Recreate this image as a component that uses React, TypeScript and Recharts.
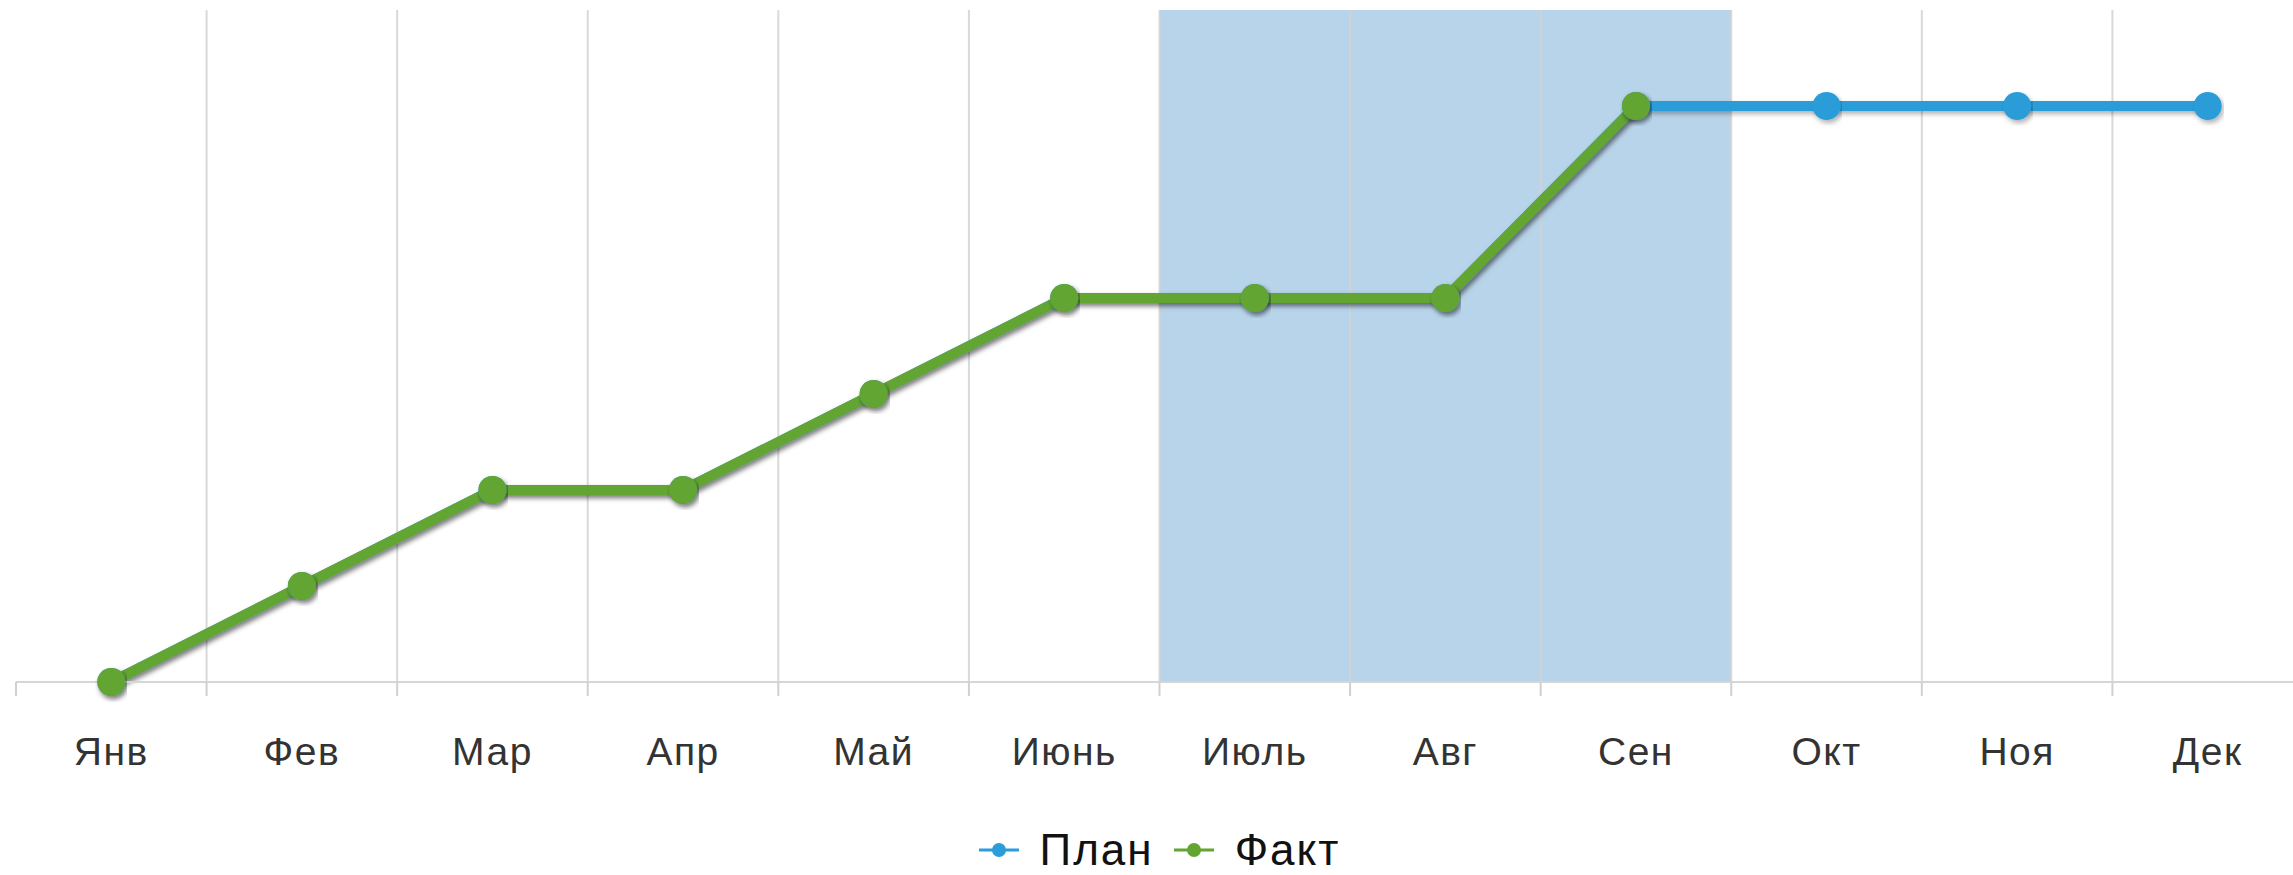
import {
  LineChart,
  Line,
  XAxis,
  YAxis,
  ReferenceArea,
  ReferenceLine,
  Legend,
} from "recharts";

const months = ["Янв", "Фев", "Мар", "Апр", "Май", "Июнь", "Июль", "Авг", "Сен", "Окт", "Ноя", "Дек"];
const planValues = [0, 1, 2, 2, 3, 4, 4, 4, 6, 6, 6, 6];
const factValues: (number | null)[] = [0, 1, 2, 2, 3, 4, 4, 4, 6, null, null, null];
const highlightFrom = "Июль";
const highlightTo = "Сен";
const yMax = 7;

const BLUE = "#2b9dd9";
const GREEN = "#64a531";

// points sit in the middle of each month band
const data = months.map((m, i) => ({
  x: i + 0.5,
  month: m,
  plan: planValues[i],
  fact: factValues[i],
}));

const edgeTicks = months.map((_, i) => i).concat(months.length);
const innerTicks = edgeTicks.slice(1, -1);
const centerTicks = data.map((d) => d.x);

const FONT = "'Liberation Sans', Arial, sans-serif";

const renderLegend = (props: any) => {
  const { payload } = props;
  return (
    <div
      style={{
        display: "flex",
        justifyContent: "center",
        alignItems: "center",
        height: 50,
        fontFamily: FONT,
        fontSize: 44,
        letterSpacing: 2,
        color: "#111",
      }}
    >
      {(payload || []).map((entry: any, i: number) => (
        <span key={i} style={{ display: "flex", alignItems: "center", marginRight: i === 0 ? 20 : 0 }}>
          <svg width={40} height={20}>
            <line x1={0} y1={10} x2={40} y2={10} stroke={entry.color} strokeWidth={3} />
            <circle cx={20} cy={10} r={7} fill={entry.color} />
          </svg>
          <span style={{ marginLeft: 21 }}>{entry.value}</span>
        </span>
      ))}
    </div>
  );
};

export default function App() {
  return (
    <div
      style={{
        position: "fixed",
        left: 0,
        top: 0,
        width: 2293,
        height: 875,
        overflow: "hidden",
        background: "#fff",
      }}
    >
      <LineChart
        width={2310}
        height={875}
        data={data}
        margin={{ top: 10, right: 7, left: 16, bottom: 0 }}
      >
        <defs>
          <filter id="lineShadow" x="-5%" y="-20%" width="110%" height="140%">
            <feDropShadow dx="2" dy="3" stdDeviation="2.5" floodColor="#000" floodOpacity="0.3" />
          </filter>
        </defs>
        <XAxis
          xAxisId="edges"
          type="number"
          dataKey="x"
          domain={[0, months.length]}
          ticks={edgeTicks}
          interval={0}
          height={20}
          tickSize={14}
          tickFormatter={() => ""}
          axisLine={{ stroke: "#d6d6d6", strokeWidth: 2 }}
          tickLine={{ stroke: "#d0d0d0", strokeWidth: 2 }}
        />
        <XAxis
          xAxisId="labels"
          type="number"
          dataKey="x"
          domain={[0, months.length]}
          ticks={centerTicks}
          interval={0}
          height={123}
          axisLine={false}
          tickLine={false}
          tickSize={0}
          tickMargin={35}
          tickFormatter={(v: number) => months[Math.floor(v)]}
          tick={{ fontFamily: FONT, fontSize: 39, letterSpacing: 1.5, fill: "#333" }}
        />
        <YAxis type="number" domain={[0, yMax]} hide />
        <ReferenceArea
          xAxisId="edges"
          x1={months.indexOf(highlightFrom)}
          x2={months.indexOf(highlightTo) + 1}
          fill="#71aad5"
          fillOpacity={0.5}
          stroke="none"
        />
        {innerTicks.map((t) => (
          <ReferenceLine key={t} xAxisId="edges" x={t} stroke="#d2d2d2" strokeWidth={2} strokeOpacity={0.85} />
        ))}
        <Legend verticalAlign="bottom" height={50} content={renderLegend} />
        <Line
          xAxisId="edges"
          name="План"
          dataKey="plan"
          stroke={BLUE}
          strokeWidth={10}
          dot={{ r: 14, fill: BLUE, stroke: "none" }}
          activeDot={false}
          filter="url(#lineShadow)"
          isAnimationActive={false}
        />
        <Line
          xAxisId="edges"
          name="Факт"
          dataKey="fact"
          stroke={GREEN}
          strokeWidth={10}
          dot={{ r: 14, fill: GREEN, stroke: "none" }}
          activeDot={false}
          filter="url(#lineShadow)"
          isAnimationActive={false}
        />
      </LineChart>
    </div>
  );
}
